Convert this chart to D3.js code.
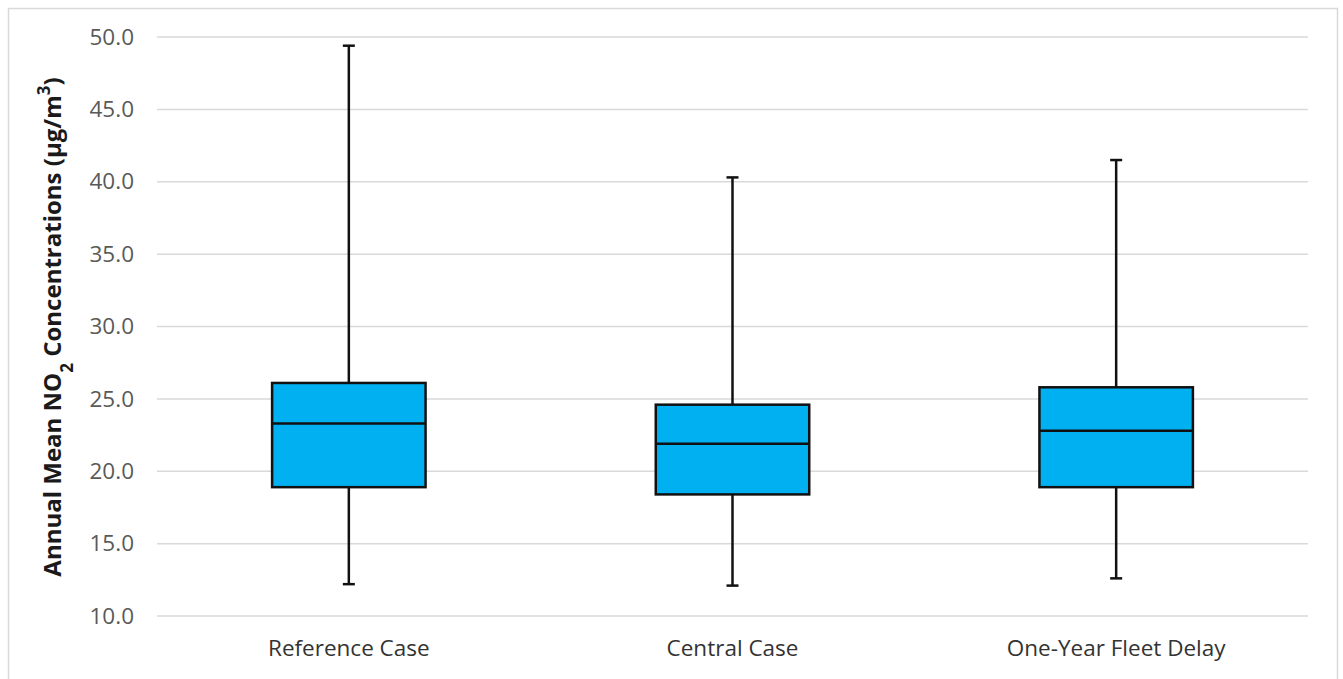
<!DOCTYPE html>
<html>
<head>
<meta charset="utf-8">
<script src="https://cdn.jsdelivr.net/npm/d3@7"></script>
<style>
  html, body { margin: 0; padding: 0; background: #fff; }
  svg { display: block; }
</style>
</head>
<body>
<svg id="chart" width="1343" height="679"></svg>
<script>
const categories = ["Reference Case", "Central Case", "One-Year Fleet Delay"];
const whiskerMin = [12.2, 12.1, 12.6];
const q1Values = [18.9, 18.4, 18.9];
const medianValues = [23.3, 21.9, 22.8];
const q3Values = [26.1, 24.6, 25.8];
const whiskerMax = [49.4, 40.3, 41.5];
const yTicks = [10, 15, 20, 25, 30, 35, 40, 45, 50];

const svg = d3.select("#chart");
const W = 1343, H = 679;
const margin = { left: 157, right: 35, top: 37, bottom: 63 };
const FONT = "'Open Sans', 'Noto Sans', sans-serif";

// outer frame
svg.append("rect")
  .attr("x", 8.5).attr("y", 8.5)
  .attr("width", 1329).attr("height", 672)
  .attr("fill", "#fff").attr("stroke", "#d9d9d9").attr("stroke-width", 1.5);

const x = d3.scaleBand()
  .domain(categories)
  .range([margin.left, W - margin.right])
  .paddingInner(0.6).paddingOuter(0.3);

const y = d3.scaleLinear().domain([10, 50]).range([H - margin.bottom, margin.top]);

// gridlines
svg.append("g")
  .selectAll("line").data(yTicks).join("line")
  .attr("x1", margin.left).attr("x2", W - margin.right)
  .attr("y1", d => y(d)).attr("y2", d => y(d))
  .attr("stroke", "#d9d9d9").attr("stroke-width", 1.5);

// y axis labels
const yAxis = d3.axisLeft(y).tickValues(yTicks).tickFormat(d3.format(".1f")).tickSize(0).tickPadding(23);
const gy = svg.append("g").attr("transform", `translate(${margin.left},0)`).call(yAxis);
gy.select(".domain").remove();
gy.selectAll("text")
  .attr("fill", "#595959")
  .style("font-family", FONT)
  .style("font-size", "22.5px");

// x axis labels
const xAxis = d3.axisBottom(x).tickSize(0).tickPadding(24);
const gx = svg.append("g").attr("transform", `translate(0,${y(10)})`).call(xAxis);
gx.select(".domain").remove();
gx.selectAll("text")
  .attr("fill", "#333")
  .style("font-family", FONT)
  .style("font-size", "22.5px");

// y title
const title = svg.append("text")
  .attr("transform", `translate(61,327) rotate(-90)`)
  .attr("text-anchor", "middle")
  .style("font-family", FONT)
  .style("font-size", "24px")
  .style("font-weight", "bold")
  .attr("fill", "#1a1a1a");
title.append("tspan").text("Annual Mean NO");
title.append("tspan").text("2").attr("baseline-shift", "sub").style("font-size", "17px");
title.append("tspan").text(" Concentrations (µg/m");
title.append("tspan").text("3").attr("baseline-shift", "super").style("font-size", "17px");
title.append("tspan").text(")");

// boxes
const data = categories.map((c, i) => ({
  c, min: whiskerMin[i], q1: q1Values[i], med: medianValues[i], q3: q3Values[i], max: whiskerMax[i]
}));
const capW = 12;
const g = svg.append("g");
const box = g.selectAll("g.box").data(data).join("g").attr("class", "box");
box.each(function (d) {
  const s = d3.select(this);
  const cx = x(d.c) + x.bandwidth() / 2;
  const stroke = "#111";
  s.append("line").attr("x1", cx).attr("x2", cx).attr("y1", y(d.max)).attr("y2", y(d.q3))
    .attr("stroke", stroke).attr("stroke-width", 2.5);
  s.append("line").attr("x1", cx).attr("x2", cx).attr("y1", y(d.q1)).attr("y2", y(d.min))
    .attr("stroke", stroke).attr("stroke-width", 2.5);
  s.append("line").attr("x1", cx - capW / 2).attr("x2", cx + capW / 2).attr("y1", y(d.max)).attr("y2", y(d.max))
    .attr("stroke", stroke).attr("stroke-width", 2.5);
  s.append("line").attr("x1", cx - capW / 2).attr("x2", cx + capW / 2).attr("y1", y(d.min)).attr("y2", y(d.min))
    .attr("stroke", stroke).attr("stroke-width", 2.5);
  s.append("rect").attr("x", x(d.c)).attr("width", x.bandwidth())
    .attr("y", y(d.q3)).attr("height", y(d.q1) - y(d.q3))
    .attr("fill", "#00b0f0").attr("stroke", stroke).attr("stroke-width", 2.5);
  s.append("line").attr("x1", x(d.c)).attr("x2", x(d.c) + x.bandwidth()).attr("y1", y(d.med)).attr("y2", y(d.med))
    .attr("stroke", stroke).attr("stroke-width", 2.5);
});
</script>
</body>
</html>
